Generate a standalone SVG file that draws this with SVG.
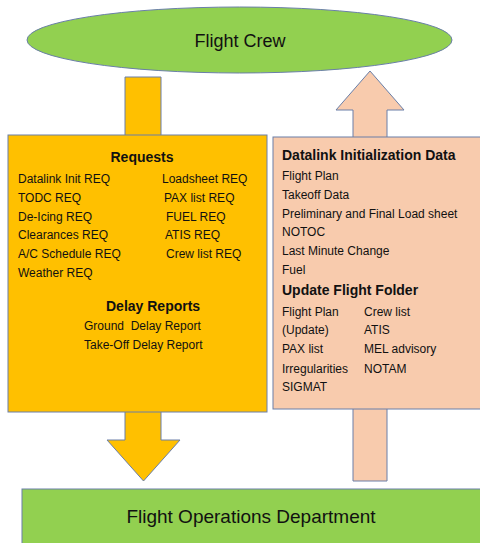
<svg xmlns="http://www.w3.org/2000/svg" width="480" height="543" viewBox="0 0 480 543">
<style>
.sh{stroke:#6A7FA8;stroke-width:1}
.t{font-family:"Liberation Sans",Arial,sans-serif;fill:#111}
.r{font-size:12px}
.b{font-size:14px;font-weight:bold}
</style>
<rect width="480" height="543" fill="#fff"/>
<g id="connectors">
<polygon class="sh" fill="#FFC000" points="125,77 161,77 161,440 180,440 143.5,481 107,440 125,440"/>
<polygon class="sh" fill="#F8CBAD" points="370,71 404,110 387,110 387,481 353,481 353,110 336,110"/>
</g>
<g id="flight-crew">
<ellipse class="sh" cx="239.5" cy="40" rx="212.5" ry="33" fill="#92D050"/>
<text class="t" x="240" y="47" font-size="18" text-anchor="middle">Flight Crew</text>
</g>
<g id="requests">
<rect class="sh" x="8" y="135" width="259" height="277" fill="#FFC000"/>
<text class="t b" x="142" y="162" text-anchor="middle">Requests</text>
<text class="t r" x="18" y="183">Datalink Init REQ</text>
<text class="t r" x="18" y="202">TODC REQ</text>
<text class="t r" x="18" y="221">De-Icing REQ</text>
<text class="t r" x="18" y="239">Clearances REQ</text>
<text class="t r" x="18" y="258">A/C Schedule REQ</text>
<text class="t r" x="18" y="277">Weather REQ</text>
<text class="t r" x="162" y="183">Loadsheet REQ</text>
<text class="t r" x="164" y="202">PAX list REQ</text>
<text class="t r" x="166" y="221">FUEL REQ</text>
<text class="t r" x="165" y="239">ATIS REQ</text>
<text class="t r" x="166" y="258">Crew list REQ</text>
<text class="t b" x="106" y="311">Delay Reports</text>
<text class="t r" x="84" y="330" xml:space="preserve">Ground  Delay Report</text>
<text class="t r" x="84" y="349">Take-Off Delay Report</text>
</g>
<g id="datalink-data">
<rect class="sh" x="273" y="137" width="220" height="272" fill="#F8CBAD"/>
<text class="t b" x="282" y="160">Datalink Initialization Data</text>
<text class="t r" x="282" y="180">Flight Plan</text>
<text class="t r" x="282" y="199">Takeoff Data</text>
<text class="t r" x="282" y="218">Preliminary and Final Load sheet</text>
<text class="t r" x="282" y="236">NOTOC</text>
<text class="t r" x="282" y="255">Last Minute Change</text>
<text class="t r" x="282" y="274">Fuel</text>
<text class="t b" x="282" y="295">Update Flight Folder</text>
<text class="t r" x="282" y="316">Flight Plan</text>
<text class="t r" x="282" y="334">(Update)</text>
<text class="t r" x="282" y="353">PAX list</text>
<text class="t r" x="282" y="373">Irregularities</text>
<text class="t r" x="282" y="391">SIGMAT</text>
<text class="t r" x="364" y="316">Crew list</text>
<text class="t r" x="364" y="334">ATIS</text>
<text class="t r" x="364" y="353">MEL advisory</text>
<text class="t r" x="364" y="373">NOTAM</text>
</g>
<g id="flight-ops">
<rect class="sh" x="22" y="489" width="470" height="60" fill="#92D050"/>
<text class="t" x="251" y="523" font-size="19" text-anchor="middle">Flight Operations Department</text>
</g>
</svg>
